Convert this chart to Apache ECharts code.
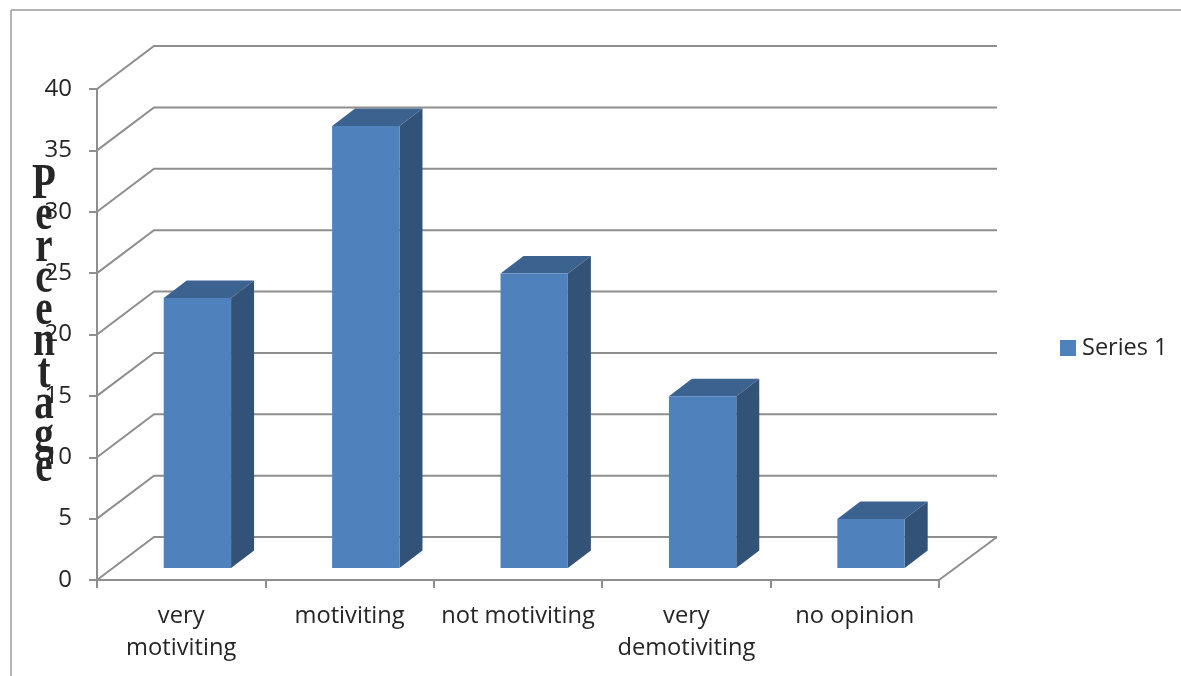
<!DOCTYPE html>
<html>
<head>
<meta charset="utf-8">
<script src="https://cdn.jsdelivr.net/npm/echarts@6/dist/echarts.min.js"></script>
<style>html,body{margin:0;padding:0;background:#fff}#c{width:1181px;height:676px}</style>
</head>
<body>
<div id="c"></div>
<script>
const categories = ['very\nmotiviting', 'motiviting', 'not motiviting', 'very\ndemotiviting', 'no opinion'];
const values = [22, 36, 24, 14, 4];
const wallLevels = [0, 5, 10, 15, 20, 25, 30, 35, 40];
const seriesName = 'Series 1';
const axisTitle = 'Percentage';

// Oblique projection used for the floor, back wall and bar depth
const WALL_DX = 57, WALL_DY = -43, WALL_RIGHT_DX = 58;
const BAR_SHIFT_DX = 16.2, BAR_SHIFT_DY = -12;
const BAR_DX = 23, BAR_DY = -17.5;
const BAR_RATIO = 0.4;
const GRID_COLOR = '#8e8e8e';
const FACE = '#4f81bd', TOP = '#3c6390', SIDE = '#325277';
const TEXT = '#262626';
const FONT = 'Open Sans';

function renderWall(params, api) {
  const rect = params.coordSys;
  const y = api.coord([0, api.value(0)])[1];
  const x0 = rect.x;
  const children = [{
    type: 'polyline',
    shape: { points: [[x0, y], [x0 + WALL_DX, y + WALL_DY], [x0 + rect.width + WALL_RIGHT_DX, y + WALL_DY]] },
    style: { fill: null, stroke: GRID_COLOR, lineWidth: 2 }
  }];
  if (api.value(0) === 0) {
    children.push({
      type: 'line',
      shape: { x1: x0 + rect.width, y1: y, x2: x0 + rect.width + WALL_RIGHT_DX, y2: y + WALL_DY },
      style: { stroke: GRID_COLOR, lineWidth: 2 }
    });
  }
  return { type: 'group', children };
}

function renderBar(params, api) {
  const top = api.coord([api.value(0), api.value(1)]);
  const base = api.coord([api.value(0), 0]);
  const w = api.size([1, 0])[0] * BAR_RATIO;
  const l = top[0] - w / 2 + BAR_SHIFT_DX, r = l + w;
  const t = top[1] + BAR_SHIFT_DY, b = base[1] + BAR_SHIFT_DY;
  return {
    type: 'group',
    children: [
      { type: 'polygon', shape: { points: [[l, t], [r, t], [r + BAR_DX, t + BAR_DY], [l + BAR_DX, t + BAR_DY]] }, style: { fill: TOP } },
      { type: 'polygon', shape: { points: [[r, t], [r + BAR_DX, t + BAR_DY], [r + BAR_DX, b + BAR_DY], [r, b]] }, style: { fill: SIDE } },
      { type: 'rect', shape: { x: l, y: t, width: w, height: b - t }, style: { fill: FACE } }
    ]
  };
}

const chart = echarts.init(document.getElementById('c'));
chart.setOption({
  animation: false,
  backgroundColor: '#fff',
  grid: { left: 97, top: 89, width: 842, height: 491 },
  legend: {
    left: 1055, top: 331,
    itemWidth: 16, itemHeight: 16, itemGap: 6,
    icon: 'rect',
    data: [seriesName],
    textStyle: { fontFamily: FONT, fontSize: 23.5, color: TEXT, padding: [0, 0, 0, 1] }
  },
  xAxis: {
    type: 'category',
    data: categories,
    axisLine: { lineStyle: { color: GRID_COLOR, width: 2 } },
    axisTick: { show: true, length: 8, lineStyle: { color: GRID_COLOR, width: 2 } },
    axisLabel: { interval: 0, margin: 20, fontFamily: FONT, fontSize: 23.7, lineHeight: 32, color: TEXT },
    splitLine: { show: false }
  },
  yAxis: {
    type: 'value',
    min: 0, max: 40, interval: 5,
    axisLine: { show: true, lineStyle: { color: GRID_COLOR, width: 2 } },
    axisTick: { show: true, length: 8, lineStyle: { color: GRID_COLOR, width: 2 } },
    axisLabel: { margin: 25, fontFamily: FONT, fontSize: 24, color: TEXT, padding: [6, 0, 0, 0] },
    splitLine: { show: false }
  },
  graphic: [
    { type: 'line', silent: true, shape: { x1: 11, y1: 10, x2: 1181, y2: 10 }, style: { stroke: '#9a9a9a', lineWidth: 1.5 } },
    { type: 'line', silent: true, shape: { x1: 11, y1: 10, x2: 11, y2: 676 }, style: { stroke: '#9a9a9a', lineWidth: 1.5 } },
    {
      type: 'text', silent: true, z: 20,
      x: 44, y: 169, scaleX: 0.78, originX: 0, originY: 0,
      style: {
        text: axisTitle.split('').join('\n'),
        fontFamily: 'Liberation Serif', fontWeight: 'bold', fontSize: 50, lineHeight: 31.5,
        fill: '#262626', align: 'center', verticalAlign: 'top',
        shadowColor: 'rgba(40,40,40,0.8)', shadowBlur: 4
      }
    }
  ],
  series: [
    {
      type: 'custom', silent: true, z: 1,
      renderItem: renderWall,
      data: wallLevels.map(v => [v]),
      encode: { y: 0 },
      clip: false
    },
    {
      type: 'custom', name: seriesName, silent: true, z: 3,
      renderItem: renderBar,
      itemStyle: { color: FACE },
      data: values.map((v, i) => [i, v]),
      encode: { x: 0, y: 1 },
      clip: false
    }
  ]
});
</script>
</body>
</html>
